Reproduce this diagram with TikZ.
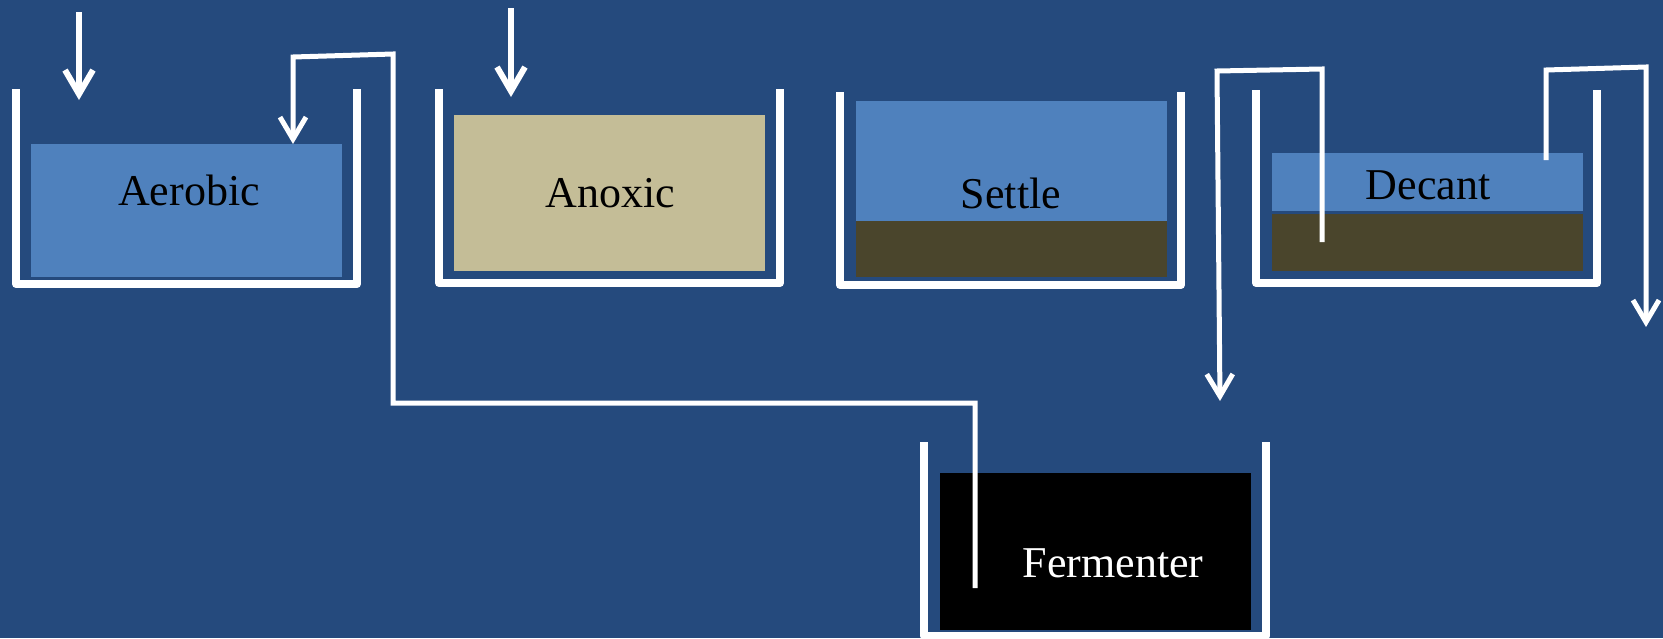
\documentclass[tikz,border=0pt]{standalone}
\usepackage{fontspec}
\setmainfont{Liberation Serif}
\usetikzlibrary{arrows.meta}
\definecolor{bgblue}{RGB}{37,74,125}
\definecolor{water}{RGB}{79,129,189}
\definecolor{anoxfill}{RGB}{196,189,151}
\definecolor{sludge}{RGB}{74,69,44}
\tikzset{
  tankwall/.style={draw=white, line width=8pt, line join=round},
  liquid/.style={inner sep=0pt, outer sep=0pt, draw=none},
  tanklabel/.style={inner sep=0pt, font=\fontsize{44}{50}\selectfont, text=black},
  feed/.style={draw=white, line width=6pt, -{Straight Barb[length=24pt,width=28pt,line width=6pt]}},
  pipe/.style={draw=white, line width=5pt, line join=miter},
  pipeout/.style={pipe, -{Straight Barb[length=22pt,width=26pt,line width=5pt]}},
}
\begin{document}
\begin{tikzpicture}[x=1pt, y=-1pt]
\useasboundingbox (0,0) rectangle (1663,638);
\fill[bgblue] (0,0) rectangle (1663,638);

% ---- liquid contents ----
\node[liquid, fill=water, minimum width=311pt, minimum height=133pt] (aerliq) at (186.5,210.5) {};
\node[liquid, fill=anoxfill, minimum width=311pt, minimum height=156pt] (anoliq) at (609.5,193) {};
\node[liquid, fill=water, minimum width=311pt, minimum height=120pt] (setliq) at (1011.5,161) {};
\node[liquid, fill=sludge, minimum width=311pt, minimum height=56pt] (setsl) at (1011.5,249) {};
\node[liquid, fill=water, minimum width=311pt, minimum height=58pt] (decliq) at (1427.5,182) {};
\node[liquid, fill=sludge, minimum width=311pt, minimum height=57pt] (decsl) at (1427.5,242.5) {};
\node[liquid, fill=black, minimum width=311pt, minimum height=157pt] (ferliq) at (1095.5,551.5) {};

% ---- labels ----
\node[tanklabel] (aerlab) at (189,190) {Aerobic};
\node[tanklabel] (anolab) at (610,193) {Anoxic};
\node[tanklabel] (setlab) at (1011,193) {Settle};
\node[tanklabel] (declab) at (1428,185) {Decant};
\node[tanklabel, text=white] (ferlab) at (1113,563) {Fermenter};

% ---- tank walls ----
\draw[tankwall] (16,89) -- (16,284) -- (357,284) -- (357,89);
\draw[tankwall] (439,89) -- (439,283) -- (780,283) -- (780,89);
\draw[tankwall] (840,92) -- (840,285) -- (1181,285) -- (1181,92);
\draw[tankwall] (1256,90) -- (1256,283) -- (1597,283) -- (1597,90);
\draw[tankwall] (924,442) -- (924,636) -- (1266,636) -- (1266,442);

% ---- feed arrows ----
\coordinate (aerin) at (79,12);
\coordinate (aertop) at (79,100);
\coordinate (anoin) at (511,8);
\coordinate (anotop) at (511,97);
\draw[feed] (aerin) -- (aertop);
\draw[feed] (anoin) -- (anotop);

% ---- recycle from fermenter back to aerobic tank ----
\coordinate (ferpick) at (975,588);
\coordinate (ferup) at (975,403);
\coordinate (runleft) at (393,403);
\coordinate (runtop) at (393,54);
\coordinate (aerdrop) at (293,57);
\coordinate (aerret) at (293,144);
\draw[pipeout] (ferpick) -- (ferup) -- (runleft) -- (runtop) -- (aerdrop) -- (aerret);

% ---- sludge waste from decant tank ----
\coordinate (wsin) at (1322,242);
\coordinate (wsup) at (1322,69);
\coordinate (wsleft) at (1217,71);
\coordinate (wsout) at (1220,401);
\draw[pipeout] (wsin) -- (wsup) -- (wsleft) -- (wsout);

% ---- clear effluent from decant tank ----
\coordinate (efin) at (1546,160);
\coordinate (efup) at (1546,70);
\coordinate (efright) at (1646,67);
\coordinate (efout) at (1646,327);
\draw[pipeout] (efin) -- (efup) -- (efright) -- (efout);
\end{tikzpicture}
\end{document}
